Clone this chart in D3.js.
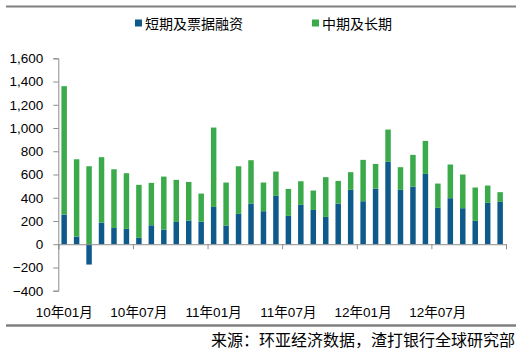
<!DOCTYPE html>
<html><head><meta charset="utf-8">
<script src="https://cdn.jsdelivr.net/npm/d3@7"></script>
<style>
html,body{margin:0;padding:0;background:#fff;}
svg{display:block;}
</style></head>
<body><svg id="c" width="523" height="357"></svg>
<script>
const months = [
 "10年01月","10年02月","10年03月","10年04月","10年05月","10年06月","10年07月","10年08月","10年09月","10年10月","10年11月","10年12月",
 "11年01月","11年02月","11年03月","11年04月","11年05月","11年06月","11年07月","11年08月","11年09月","11年10月","11年11月","11年12月",
 "12年01月","12年02月","12年03月","12年04月","12年05月","12年06月","12年07月","12年08月","12年09月","12年10月","12年11月","12年12月"];
const shortTerm = [255,66,-175,186,140,132,55,163,126,192,204,195,
 321,161,261,350,284,416,244,339,295,235,350,468,
 370,479,709,468,496,605,313,396,310,201,356,364];
const mediumLong = [1105,665,671,563,505,479,456,365,456,362,332,241,
 683,370,410,373,247,209,232,203,167,342,195,152,
 356,212,278,195,273,284,209,290,290,287,149,84];
const yTicks = [-400,-200,0,200,400,600,800,1000,1200,1400,1600];
const seriesNames = ["短期及票据融资","中期及长期"];
const colors = ["#0E5A8A","#3BAA4B"];
const sourceText = "来源：环亚经济数据，渣打银行全球研究部";

const svg = d3.select("#c");
const mL = 58.3, mR = 506, mT = 58.3, mB = 290.7;
const font = "'Liberation Sans', Arial, 'Noto Sans CJK SC', sans-serif";

// frame lines
svg.append("line").attr("x1",6).attr("x2",516).attr("y1",6.5).attr("y2",6.5)
  .attr("stroke","#808080").attr("stroke-width",2);
svg.append("line").attr("x1",6).attr("x2",516).attr("y1",325.5).attr("y2",325.5)
  .attr("stroke","#808080").attr("stroke-width",2.5);

const y = d3.scaleLinear().domain([-400,1600]).range([mB, mT]);
const x = d3.scaleBand().domain(months).range([mL, mR]).paddingInner(0.56).paddingOuter(0.25);
const xi = d3.scaleLinear().domain([0, months.length]).range([mL, mR]);

const data = months.map((m,i)=>({m, s:shortTerm[i], l:mediumLong[i]}));
const stack = d3.stack().keys(["s","l"]).offset(d3.stackOffsetDiverging);
const layers = stack(data);

layers.forEach((layer, k) => {
  svg.append("g").selectAll("rect").data(layer).join("rect")
    .attr("x", d => x(d.data.m))
    .attr("width", x.bandwidth())
    .attr("y", d => y(Math.max(d[0], d[1])))
    .attr("height", d => Math.abs(y(d[0]) - y(d[1])))
    .attr("fill", colors[k]);
});

// y axis
const yAxis = svg.append("g").attr("transform",`translate(${mL},0)`)
  .call(d3.axisLeft(y).tickValues(yTicks).tickFormat(d3.format(",")).tickSizeOuter(0).tickSize(5).tickPadding(10));
yAxis.select(".domain").attr("stroke","#8c8c8c");
yAxis.selectAll(".tick line").attr("stroke","#8c8c8c");
yAxis.selectAll("text").attr("font-family",font).attr("font-size",13.5).attr("fill","#000");

// x axis at zero
const xAxis = svg.append("g").attr("transform",`translate(0,${y(0)})`)
  .call(d3.axisBottom(xi).tickValues(d3.range(0, months.length+1, 6)).tickFormat("").tickSizeOuter(0).tickSize(5));
xAxis.select(".domain").attr("stroke","#8c8c8c");
xAxis.selectAll(".tick line").attr("stroke","#8c8c8c");

// x labels
svg.append("g").selectAll("text").data(months.filter((m,i)=>i%6===0)).join("text")
  .attr("x", d => x(d) + x.bandwidth()/2)
  .attr("y", 316.5)
  .attr("text-anchor","middle")
  .attr("font-family",font).attr("font-size",13.5).attr("fill","#000")
  .text(d => d);

// legend
const legX = [135, 312];
seriesNames.forEach((n,k)=>{
  svg.append("rect").attr("x",legX[k]).attr("y",19.5).attr("width",7).attr("height",7).attr("fill",colors[k]);
  svg.append("text").attr("x",legX[k]+10).attr("y",28.5)
    .attr("font-family","'Noto Sans CJK SC', sans-serif").attr("font-size",14).attr("fill","#000").text(n);
});

// source
svg.append("text").attr("x",515).attr("y",346).attr("text-anchor","end")
  .attr("font-family","'Noto Sans CJK SC', sans-serif").attr("font-size",16).attr("fill","#000").text(sourceText);
</script></body></html>
